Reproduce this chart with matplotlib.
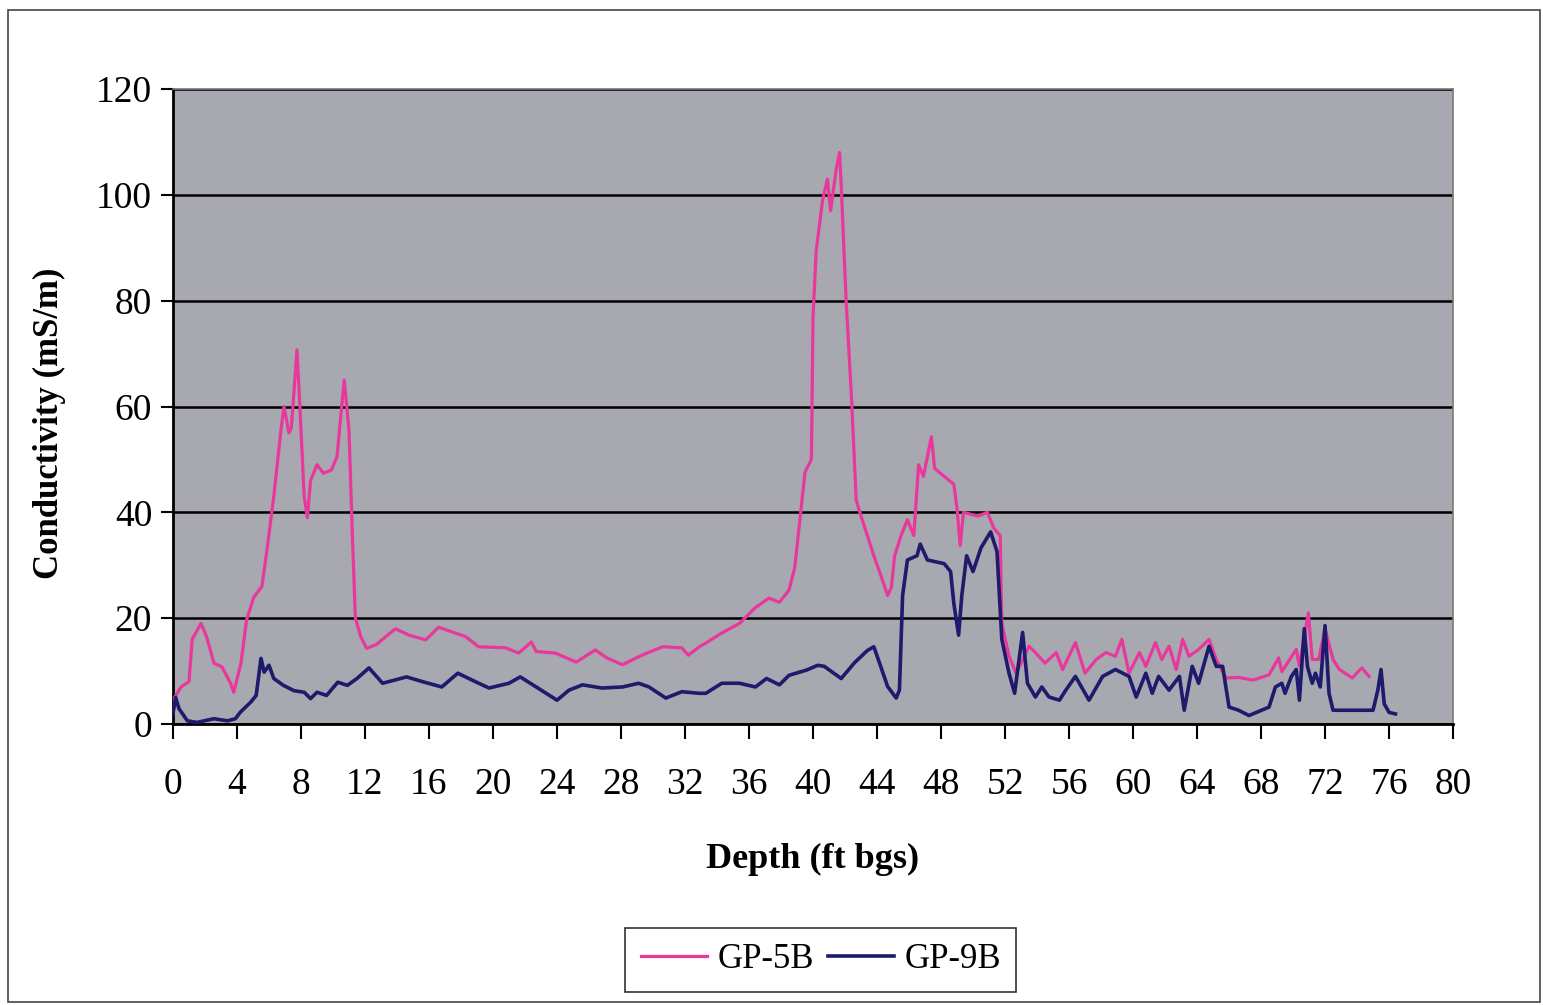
import matplotlib.pyplot as plt
from matplotlib.patches import Rectangle

# GP-5B conductivity profile (depth ft bgs, mS/m)
gp5b_depth = [
    0.0, 0.5, 1.0, 1.2, 1.75, 2.1, 2.56, 3.06, 3.6, 3.8, 4.25, 4.6, 5.06, 5.56,
    5.9, 6.3, 6.75, 6.94, 7.25, 7.4, 7.75, 7.9, 8.2, 8.4, 8.6, 9.0, 9.4, 9.9,
    10.25, 10.7, 11.0, 11.2, 11.4, 11.75, 12.1, 12.7, 13.9, 14.75, 15.8, 16.6,
    18.3, 19.1, 20.8, 21.6, 22.4, 22.7, 23.9, 25.2, 26.4, 27.1, 28.1, 29.3,
    30.6, 31.8, 32.2, 32.9, 33.3, 34.3, 35.4, 36.4, 37.25, 37.9, 38.5, 38.86,
    39.5, 39.9, 40.0, 40.2, 40.6, 40.9, 41.1, 41.45, 41.66, 41.76, 42.07, 42.4,
    42.7, 43.0, 43.4, 43.8, 44.25, 44.66, 44.9, 45.1, 45.5, 45.9, 46.3, 46.6,
    46.9, 47.4, 47.6, 48.2, 48.8, 49.0, 49.2, 49.4, 50.3, 50.9, 51.3, 51.7,
    51.8, 52.25, 52.7, 53.5, 53.9, 54.5, 55.2, 55.6, 56.4, 57.0, 57.7, 58.3,
    58.9, 59.3, 59.75, 60.4, 60.8, 61.4, 61.8, 62.25, 62.7, 63.1, 63.5, 64.1,
    64.75, 65.2, 65.8, 66.6, 67.5, 68.5, 69.1, 69.3, 70.2, 70.4, 70.96, 71.2,
    71.6, 72.0, 72.5, 72.9, 73.7, 74.3, 74.75,
]
gp5b_cond = [
    4.5, 7.0, 8.0, 16.0, 19.0, 16.5, 11.5, 10.8, 7.7, 6.0, 11.5, 19.7, 24.0, 26.0,
    33.5, 43.0, 55.6, 60.0, 55.0, 56.0, 70.7, 62.0, 43.0, 39.0, 46.0, 49.0, 47.4, 48.0,
    50.5, 65.0, 55.6, 36.7, 20.0, 16.4, 14.3, 15.0, 18.0, 16.8, 15.9, 18.3,
    16.5, 14.6, 14.4, 13.4, 15.5, 13.7, 13.4, 11.7, 14.0, 12.5, 11.2, 13.0,
    14.6, 14.4, 13.0, 14.6, 15.3, 17.2, 19.0, 22.0, 23.8, 23.0, 25.3, 29.6,
    47.6, 50.0, 76.8, 89.5, 99.0, 103.0, 97.0, 104.9, 108.0, 102.0, 80.0, 62.0,
    42.3, 39.3, 35.6, 31.8, 28.0, 24.3, 25.8, 31.8, 35.6, 38.6, 35.6, 49.0,
    46.8, 54.3, 48.3, 46.8, 45.3, 40.8, 33.7, 40.0, 39.3, 40.0, 37.0, 35.6,
    19.0, 12.8, 9.6, 14.7, 13.5, 11.5, 13.5, 10.3, 15.4, 9.6, 12.2, 13.5,
    12.8, 16.0, 9.6, 13.5, 10.9, 15.4, 12.2, 14.7, 10.3, 16.0, 12.8, 14.1,
    16.0, 12.2, 8.7, 8.8, 8.3, 9.3, 12.5, 9.9, 14.1, 10.9, 21.0, 12.2,
    12.2, 18.0, 12.2, 10.3, 8.7, 10.6, 9.0,
]

# GP-9B conductivity profile
gp9b_depth = [
    0.0, 0.17, 0.375, 0.9, 1.5, 2.56, 3.4, 3.9, 4.2, 4.85, 5.2, 5.5, 5.7, 6.0,
    6.3, 6.9, 7.56, 8.2, 8.6, 9.0, 9.6, 10.3, 10.9, 11.5, 12.25, 13.1, 14.6,
    15.6, 16.8, 17.8, 18.9, 19.75, 21.0, 21.7, 22.7, 24.0, 24.75, 25.6, 26.8,
    28.1, 29.1, 29.75, 30.8, 31.8, 32.9, 33.3, 34.3, 35.4, 36.4, 37.1, 37.9,
    38.5, 39.6, 40.3, 40.7, 41.76, 42.6, 43.4, 43.8, 44.15, 44.66, 45.2, 45.4,
    45.6, 45.9, 46.5, 46.7, 47.15, 48.2, 48.6, 48.8, 49.1, 49.3, 49.6, 50.0,
    50.5, 51.1, 51.5, 51.8, 52.25, 52.6, 53.1, 53.4, 53.9, 54.3, 54.75, 55.4,
    55.8, 56.4, 57.25, 58.1, 58.9, 59.75, 60.2, 60.8, 61.2, 61.6, 62.25, 62.9,
    63.2, 63.7, 64.1, 64.75, 65.2, 65.6, 66.0, 66.6, 67.25, 68.5, 68.9, 69.3,
    69.5, 69.9, 70.2, 70.4, 70.7, 70.9, 71.2, 71.4, 71.7, 72.0, 72.25, 72.5,
    75.0, 75.3, 75.5, 75.7, 76.0, 76.4,
]
gp9b_cond = [
    2.0, 5.0, 2.9, 0.6, 0.3, 1.0, 0.6, 1.0, 2.2, 4.1, 5.4, 12.4, 9.8, 11.1,
    8.6, 7.3, 6.3, 6.0, 4.8, 6.0, 5.4, 7.9, 7.3, 8.6, 10.6, 7.7, 8.9,
    8.0, 7.0, 9.6, 8.0, 6.8, 7.7, 8.9, 7.0, 4.5, 6.4, 7.4, 6.8,
    7.0, 7.7, 7.0, 4.9, 6.1, 5.8, 5.8, 7.7, 7.7, 7.0, 8.6, 7.4,
    9.2, 10.2, 11.1, 10.9, 8.6, 11.6, 13.9, 14.6, 11.6, 7.1, 4.9, 6.4,
    24.3, 31.0, 31.8, 34.0, 31.0, 30.3, 28.8, 22.8, 16.8, 24.3, 31.8, 28.8,
    33.3, 36.3, 32.6, 16.0, 9.6, 5.8, 17.3, 7.7, 5.1, 7.0, 5.1, 4.5,
    6.4, 9.0, 4.5, 9.0, 10.3, 9.0, 5.1, 9.6, 5.8, 9.0, 6.4, 9.0,
    2.6, 10.9, 7.7, 14.7, 10.9, 10.9, 3.2, 2.6, 1.6, 3.2, 7.0, 7.7,
    5.8, 9.0, 10.3, 4.5, 18.0, 10.9, 7.7, 9.6, 7.0, 18.6, 5.8, 2.6,
    2.6, 6.4, 10.3, 3.8, 2.2, 1.9,
]

x_ticks = list(range(0, 81, 4))
y_ticks = list(range(0, 121, 20))

plt.rcParams["font.family"] = ["Liberation Serif", "DejaVu Serif"]

fig = plt.figure(figsize=(15.43, 10.05), dpi=100)
ax = fig.add_axes([0.1121, 0.2796, 0.8296, 0.6318])
ax.set_facecolor("#a8a8b0")

ax.plot(gp5b_depth, gp5b_cond, color="#e8389c", lw=2.3, label="GP-5B", zorder=3)
ax.plot(gp9b_depth, gp9b_cond, color="#1e1a6c", lw=2.6, label="GP-9B", zorder=4)

ax.set_xlim(0, 80)
ax.set_ylim(0, 120)
ax.set_xticks(x_ticks)
ax.set_yticks(y_ticks)
ax.tick_params(labelsize=27, length=9, width=1.5, color="black")
ax.tick_params(axis="x", length=11, pad=20)
ax.tick_params(axis="y", pad=6)
ax.yaxis.grid(True, color="black", lw=1.8)
ax.set_axisbelow(True)

for side in ("left", "bottom"):
    ax.spines[side].set_color("black")
    ax.spines[side].set_linewidth(2)
for side in ("top", "right"):
    ax.spines[side].set_color("#7a7a7a")
    ax.spines[side].set_linewidth(1.2)

ax.set_xlabel("Depth (ft bgs)", fontsize=26, fontweight="bold", labelpad=30)
ax.set_ylabel("Conductivity (mS/m)", fontsize=25, fontweight="bold")
ax.yaxis.set_label_coords(-0.0836, 0.474)

leg = fig.legend(loc="center", bbox_to_anchor=(0.532, 0.045), ncol=2, fontsize=25,
                 frameon=True, fancybox=False, handlelength=1.9, handletextpad=0.3,
                 columnspacing=0.4, borderpad=0.45, edgecolor="black")
leg.get_frame().set_linewidth(1.2)

# outer chart frame
fig.patches.append(Rectangle((0.005, 0.003), 0.993, 0.987, transform=fig.transFigure,
                             fill=False, edgecolor="#444444", lw=1.2))

fig.savefig("out.png", dpi=100)
